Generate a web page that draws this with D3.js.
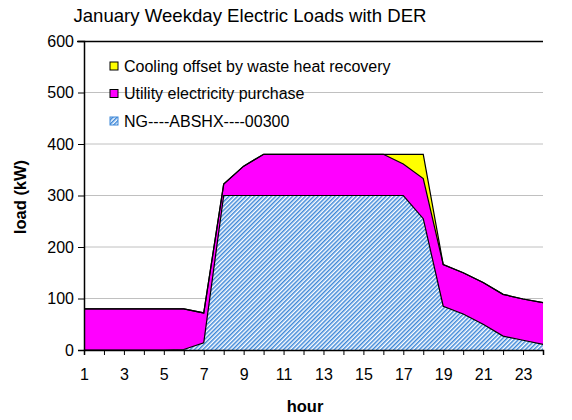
<!DOCTYPE html>
<html><head><meta charset="utf-8">
<script src="https://cdn.jsdelivr.net/npm/d3@7"></script>
<style>
html,body{margin:0;padding:0;background:#fff;}
svg text{font-family:"Liberation Sans",Arial,sans-serif;}
</style></head>
<body><svg id="c" width="572" height="420"></svg>
<script>
const hours = [1,2,3,4,5,6,7,8,9,10,11,12,13,14,15,16,17,18,19,20,21,22,23,24];
const ngAbshx = [0,0,0,0,0,1,14,300,300,300,300,300,300,300,300,300,300,255,85,70,50,27,19,11];
const utility = [80,80,80,80,80,79,58,22,57,80,80,80,80,80,80,80,61,78,81,80,81,81,80,81];
const cooling = [0,0,0,0,0,0,0,0,0,0,0,0,0,0,0,0,19,47,0,0,0,0,0,0];
const yTicks = [0,100,200,300,400,500,600];
const xTickLabels = [1,3,5,7,9,11,13,15,17,19,21,23];
const seriesNames = ["NG----ABSHX----00300","Utility electricity purchase","Cooling offset by waste heat recovery"];
const title = "January Weekday Electric Loads with DER";

const svg = d3.select("#c");
const L = 84, R = 543, T = 41, B = 350;
const x = d3.scaleLinear().domain([1,24]).range([L,R]);
const y = d3.scaleLinear().domain([0,600]).range([B,T]);

const defs = svg.append("defs");
const pat = defs.append("pattern").attr("id","hatch").attr("patternUnits","userSpaceOnUse")
  .attr("width",3).attr("height",3).attr("patternTransform","rotate(45)");
pat.append("rect").attr("width",3).attr("height",3).attr("fill","#ffffff");
pat.append("rect").attr("width",1.5).attr("height",3).attr("fill","#3d87d8");

// gridlines
svg.append("g").selectAll("line").data(yTicks.filter(d=>d>0&&d<600)).join("line")
  .attr("x1",L).attr("x2",R).attr("y1",d=>y(d)).attr("y2",d=>y(d))
  .attr("stroke","#c0c0c0").attr("stroke-width",1);

const rows = hours.map((h,i)=>({h, ng:ngAbshx[i], util:utility[i], cool:cooling[i]}));
const stack = d3.stack().keys(["ng","util","cool"])(rows);
const area = d3.area().x(d=>x(d.data.h)).y0(d=>y(d[0])).y1(d=>y(d[1]));
const fills = ["url(#hatch)","#ff00ff","#ffff00"];
const line = d3.line().x(d=>x(d.data.h)).y(d=>y(d[1]));
stack.forEach((s,i)=>{
  svg.append("path").datum(s).attr("d",area).attr("fill",fills[i]).attr("stroke","none");
});
stack.forEach((s,i)=>{
  svg.append("path").datum(s).attr("d",line).attr("fill","none").attr("stroke","#000").attr("stroke-width",1.2);
});

// frame
svg.append("line").attr("x1",L-7).attr("x2",R).attr("y1",T+0.5).attr("y2",T+0.5).attr("stroke","#000").attr("stroke-width",1.5);

// y axis
const yAxis = d3.axisLeft(y).tickValues(yTicks).tickSize(6).tickPadding(4);
const gy = svg.append("g").attr("transform",`translate(${L},0)`).call(yAxis);
gy.select(".domain").attr("stroke","#000").attr("stroke-width",1.5);
gy.selectAll(".tick line").attr("stroke","#000");
gy.selectAll("text").attr("font-size",16).attr("fill","#000").attr("font-family","Liberation Sans, Arial, sans-serif");

// x axis
const xAxis = d3.axisBottom(x).tickValues(hours).tickSize(5).tickPadding(14)
  .tickFormat(d=>xTickLabels.includes(d)?String(d):"");
const gx = svg.append("g").attr("transform",`translate(0,${B})`).call(xAxis);
gx.select(".domain").attr("stroke","#000").attr("stroke-width",1.5);
gx.selectAll(".tick line").attr("stroke","#000");
gx.selectAll("text").attr("font-size",16).attr("fill","#000").attr("font-family","Liberation Sans, Arial, sans-serif");

// titles
svg.append("text").attr("x",250).attr("y",22).attr("text-anchor","middle").attr("font-size",18.6).text(title);
svg.append("text").attr("x",305).attr("y",412).attr("text-anchor","middle").attr("font-size",16.5).attr("font-weight","bold").text("hour");
svg.append("text").attr("transform",`translate(26,197) rotate(-90)`).attr("text-anchor","middle")
  .attr("font-size",16.5).attr("font-weight","bold").text("load (kW)");

// legend
const legItems = [
  {name:seriesNames[2], fill:"#ffff00", stroke:"#000"},
  {name:seriesNames[1], fill:"#ff00ff", stroke:"#000"},
  {name:seriesNames[0], fill:"url(#hatch)", stroke:"#3d87d8"}
];
const lg = svg.append("g");
legItems.forEach((it,i)=>{
  const cy = 66 + i*27.5;
  lg.append("rect").attr("x",110).attr("y",cy-4).attr("width",8).attr("height",8)
    .attr("fill",it.fill).attr("stroke",it.stroke).attr("stroke-width",1);
  lg.append("text").attr("x",124).attr("y",cy+5.5).attr("font-size",16).text(it.name);
});
</script></body></html>
